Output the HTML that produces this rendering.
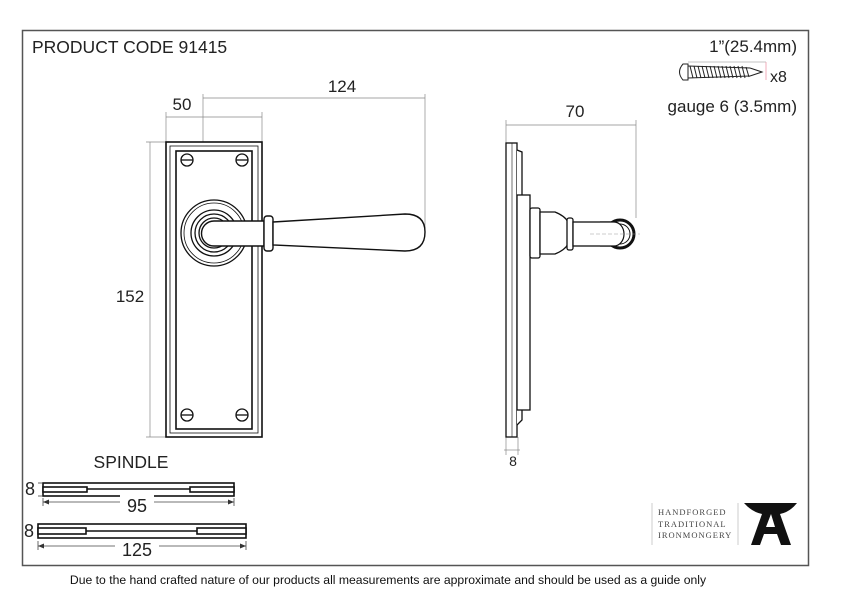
<!DOCTYPE html>
<html><head><style>
body{margin:0;background:#fff;}
svg{display:block;font-family:"Liberation Sans",sans-serif;}
</style></head><body>
<svg width="842" height="596" viewBox="0 0 842 596" xmlns="http://www.w3.org/2000/svg">
<rect x="22.5" y="30.5" width="786" height="535" fill="none" stroke="#555" stroke-width="1.5"/>
<text x="32" y="53" font-size="17.5" fill="#222">PRODUCT CODE  91415</text>
<!-- screw info -->
<text x="797" y="52" font-size="17" fill="#222" text-anchor="end">1”(25.4mm)</text>
<text x="797" y="112" font-size="17" fill="#222" text-anchor="end">gauge 6 (3.5mm)</text>
<text x="770" y="82" font-size="16" fill="#222">x8</text>
<g stroke="#222" fill="none" stroke-width="1">
<path d="M683 64 Q676 72 683 80 L688 80 L688 64 Z"/>
<line x1="688" y1="66" x2="750" y2="68"/><line x1="688" y1="78" x2="750" y2="76"/>
<path d="M690 66 l3 12 M694 66 l3 12 M698 66 l3 12 M702 66 l3 12 M706 66 l3 12 M710 66 l3 12 M714 66 l3 12 M718 66 l3 12 M722 66 l3 12 M726 66 l3 12 M730 66 l3 12 M734 66 l3 12 M738 66 l3 12 M742 66 l3 12 M746 67 l3 10"/>
<path d="M750 68 L762 72 L750 76"/>
<line x1="688" y1="62" x2="766" y2="62" stroke="#888" stroke-width="0.6"/>
<line x1="766" y1="62" x2="766" y2="80" stroke="#e9a" stroke-width="0.8"/>
</g>
<!-- dimension lines -->
<g stroke="#888" stroke-width="0.7" fill="none">
<line x1="203" y1="98" x2="425" y2="98"/>
<line x1="166" y1="117" x2="262" y2="117"/>
<line x1="203" y1="94" x2="203" y2="232"/>
<line x1="425" y1="94" x2="425" y2="232"/>
<line x1="166" y1="112" x2="166" y2="142"/>
<line x1="262" y1="112" x2="262" y2="142"/>
<line x1="150" y1="142" x2="150" y2="437"/>
<line x1="146" y1="142" x2="166" y2="142"/>
<line x1="146" y1="437" x2="166" y2="437"/>
<line x1="506" y1="125" x2="636" y2="125"/>
<line x1="506" y1="120" x2="506" y2="143"/>
<line x1="636" y1="120" x2="636" y2="218"/>
<line x1="504" y1="450" x2="520" y2="450"/>
<line x1="506" y1="437" x2="506" y2="455"/>
<line x1="518" y1="437" x2="518" y2="455"/>
</g>
<g font-size="17" fill="#222" text-anchor="middle">
<text x="342" y="92">124</text>
<text x="182" y="110">50</text>
<text x="130" y="302">152</text>
<text x="575" y="117">70</text>
<text x="513" y="466" font-size="14">8</text>
<text x="131" y="468" font-size="17.5">SPINDLE</text>
</g>
<!-- front backplate -->
<g stroke="#111" fill="#fff" stroke-width="1.6">
<rect x="166" y="142" width="96" height="295"/>
<rect x="170" y="146" width="88" height="287" stroke-width="0.8"/>
<rect x="176" y="151" width="76" height="278"/>
</g>
<g stroke="#111" fill="none" stroke-width="1.3">
<circle cx="187" cy="160" r="6"/><line x1="181" y1="160" x2="193" y2="160"/>
<circle cx="242" cy="160" r="6"/><line x1="236" y1="160" x2="248" y2="160"/>
<circle cx="187" cy="415" r="6"/><line x1="181" y1="415" x2="193" y2="415"/>
<circle cx="242" cy="415" r="6"/><line x1="236" y1="415" x2="248" y2="415"/>
<circle cx="214" cy="233" r="33"/>
<circle cx="214" cy="233" r="30" stroke-width="0.8"/>
<circle cx="214" cy="233" r="23"/>
<circle cx="214" cy="233" r="19"/>
<circle cx="214" cy="233" r="15"/>
</g>
<g stroke="#111" fill="#fff" stroke-width="1.4">
<path d="M214 221 L264 221 L264 246 L214 246 A12.5 12.5 0 0 1 214 221 Z"/>
<rect x="264" y="216" width="9" height="35" rx="3"/>
<path d="M273 222 L405 214 Q425 214 425 232 Q425 251 405 251 L273 245 Z"/>
</g>
<!-- side view -->
<g stroke="#111" fill="#fff" stroke-width="1.3">
<rect x="506" y="143" width="11" height="294"/>
<line x1="512" y1="143" x2="512" y2="437" stroke-width="0.6"/>
<path d="M517 150 L522 152 L522 420 L517 425"/>
<rect x="517" y="195" width="13" height="215"/>
<rect x="530" y="208" width="10" height="50" rx="2"/>
<path d="M540 212 L555 212 Q565 216 568 222 L568 244 Q565 250 555 254 L540 254 Z"/>
<rect x="567" y="218" width="6" height="32" rx="2"/>
<rect x="573" y="222" width="45" height="24"/>
</g>
<circle cx="620" cy="234" r="14" fill="#fff" stroke="#111" stroke-width="3"/>
<circle cx="620" cy="234" r="10" fill="#fff" stroke="#111" stroke-width="1"/>
<path d="M600 222 L614 222 A10 12 0 0 1 614 246 L600 246" fill="#fff" stroke="#111" stroke-width="1.2"/>
<line x1="590" y1="234" x2="640" y2="234" stroke="#999" stroke-width="0.5" stroke-dasharray="4 2"/>
<!-- spindles -->
<g stroke="#111" fill="none" stroke-width="1.6">
<rect x="43" y="483" width="191" height="13"/>
<line x1="43" y1="489" x2="234" y2="489"/>
<rect x="43" y="487" width="44" height="5" fill="#fff"/>
<rect x="190" y="487" width="44" height="5" fill="#fff"/>
<rect x="38" y="524" width="208" height="14"/>
<line x1="38" y1="531" x2="246" y2="531"/>
<rect x="38" y="528" width="48" height="6" fill="#fff"/>
<rect x="197" y="528" width="49" height="6" fill="#fff"/>
</g>
<g stroke="#444" stroke-width="0.8">
<line x1="43" y1="502" x2="234" y2="502"/><line x1="43" y1="498" x2="43" y2="506"/><line x1="234" y1="498" x2="234" y2="506"/>
<line x1="38" y1="546" x2="246" y2="546"/><line x1="38" y1="541" x2="38" y2="550"/><line x1="246" y1="541" x2="246" y2="550"/>
<line x1="38" y1="483" x2="42" y2="483"/><line x1="38" y1="496" x2="42" y2="496"/>
</g>
<g fill="#333">
<path d="M43 502 l6 -2.5 v5 z M234 502 l-6 -2.5 v5 z M38 546 l6 -2.5 v5 z M246 546 l-6 -2.5 v5 z"/>
</g>
<g font-size="18" fill="#222" text-anchor="middle">
<rect x="120" y="495" width="34" height="14" fill="#fff"/>
<text x="137" y="512">95</text>
<rect x="115" y="539" width="44" height="14" fill="#fff"/>
<text x="137" y="556">125</text>
<text x="30" y="495">8</text>
<text x="29" y="537">8</text>
</g>
<!-- logo -->
<line x1="652" y1="503" x2="652" y2="545" stroke="#ccc"/>
<line x1="738" y1="503" x2="738" y2="545" stroke="#ccc"/>
<g font-family="Liberation Serif,serif" font-size="8.5" fill="#444" letter-spacing="1">
<text x="658" y="515">HANDFORGED</text>
<text x="658" y="527">TRADITIONAL</text>
<text x="658" y="538">IRONMONGERY</text>
</g>
<path d="M744 503 L797 503 Q790 512 780 514 L791 545 L781 545 L777 534 L764 534 L760 545 L751 545 L762 514 Q752 512 744 503 Z M766 527 L775 527 L771 514 Z" fill="#111" fill-rule="evenodd"/>
<text x="388" y="584" font-size="12.2" fill="#111" text-anchor="middle">Due to the hand crafted nature of our products all measurements are approximate and should be used as a guide only</text>
</svg>
</body></html>
